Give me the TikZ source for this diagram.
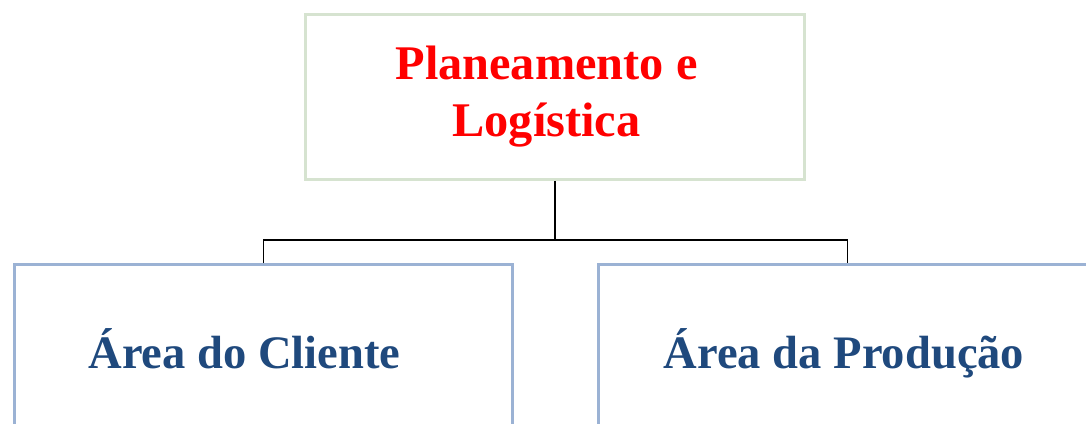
\documentclass[tikz,border=0pt]{standalone}
\usepackage{fontspec}
\setmainfont{Liberation Serif}
\definecolor{boxgreen}{RGB}{214, 227, 208}
\definecolor{boxblue}{RGB}{155, 178, 212}
\definecolor{areablue}{RGB}{31, 73, 125}
\definecolor{headred}{RGB}{255, 0, 0}
\usetikzlibrary{positioning, calc}

\begin{document}
\begin{tikzpicture}[
    headbox/.style={draw=boxgreen, line width=1.7pt, minimum width=9.98cm, minimum height=3.3cm, align=center, text=headred, font=\fontsize{27.5}{32.4}\selectfont\bfseries},
    areabox/.style={draw=boxblue, line width=1.7pt, minimum width=9.96cm, minimum height=4.02cm, text height=0.7em, text depth=0.25em, align=center, text=areablue, font=\fontsize{26.5}{30}\selectfont\bfseries},
    link/.style={draw=black, line width=1pt}
  ]
  % Frame
  \useasboundingbox (0, 0) rectangle (21.72, 8.46);
  \clip (0, 0) rectangle (21.72, 8.46);

  % Top box
  \node[headbox] (plan) at (11.1, 6.52) {Planeamento e\hspace*{0.34cm}\\Logística\hspace*{0.34cm}};

  % Areas
  \node[areabox] (cli) at (5.27, 1.16) {Área do Cliente\hspace*{0.76cm}};
  \node[areabox] (prod) at (16.95, 1.16) {Área da Produção\hspace*{0.14cm}};

  % Connectors
  \coordinate (bus) at (11.1, 3.66);
  \draw[link] (plan.south) -- (bus);
  \draw[link] (cli.north) |- (bus) -| (prod.north);
\end{tikzpicture}
\end{document}
